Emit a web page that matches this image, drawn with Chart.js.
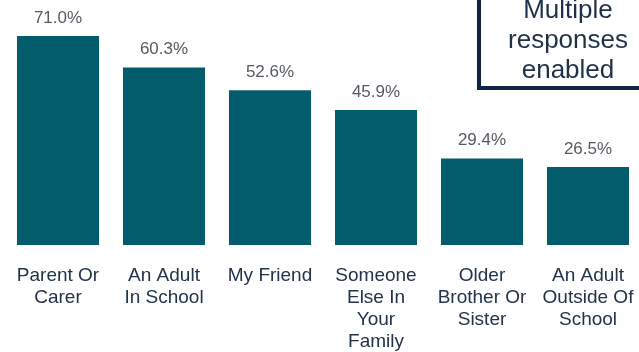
<!DOCTYPE html>
<html>
<head>
<meta charset="utf-8">
<script src="https://cdn.jsdelivr.net/npm/chart.js@4.4.1/dist/chart.umd.min.js"></script>
<style>
  html, body { margin: 0; padding: 0; background: #fff; overflow: hidden; }
  #wrap { width: 646px; height: 352px; position: relative; }
</style>
</head>
<body>
<div id="wrap"><canvas id="helpChart"></canvas></div>
<script>
// Who children would talk to (multiple responses allowed)
const categories = [
  ['Parent Or', 'Carer'],
  ['An Adult', 'In School'],
  ['My Friend'],
  ['Someone', 'Else In', 'Your', 'Family'],
  ['Older', 'Brother Or', 'Sister'],
  ['An Adult', 'Outside Of', 'School']
];
const percentages = [71.0, 60.3, 52.6, 45.9, 29.4, 26.5];
const noteLines = ['Multiple', 'responses', 'enabled'];

const fontFamily = 'Arial, "Liberation Sans", sans-serif';

// percentage above each bar
const valueLabels = {
  id: 'valueLabels',
  afterDatasetsDraw(chart) {
    const ctx = chart.ctx;
    const meta = chart.getDatasetMeta(0);
    ctx.save();
    ctx.font = '17px ' + fontFamily;
    ctx.fillStyle = '#555b62';
    ctx.textAlign = 'center';
    ctx.textBaseline = 'middle';
    meta.data.forEach((bar, i) => {
      ctx.fillText(percentages[i].toFixed(1) + '%', bar.x, bar.y - 18);
    });
    ctx.restore();
  }
};

// boxed note in the top right corner
const noteBox = {
  id: 'noteBox',
  afterDraw(chart) {
    const ctx = chart.ctx;
    ctx.save();
    ctx.strokeStyle = '#0f2443';
    ctx.lineWidth = 4;
    ctx.strokeRect(479, -20, 200, 108);
    ctx.font = '26px ' + fontFamily;
    ctx.fillStyle = '#1f3049';
    ctx.textAlign = 'center';
    ctx.textBaseline = 'middle';
    noteLines.forEach((line, i) => {
      ctx.fillText(line, 568, 11 + i * 30);
    });
    ctx.restore();
  }
};

const ctx = document.getElementById('helpChart').getContext('2d');
new Chart(ctx, {
  type: 'bar',
  data: {
    labels: categories,
    datasets: [{
      data: percentages,
      backgroundColor: '#035c6b',
      borderWidth: 0,
      categoryPercentage: 0.774,
      barPercentage: 1.0
    }]
  },
  options: {
    responsive: true,
    maintainAspectRatio: false,
    animation: false,
    layout: { padding: { left: 5, right: 5, top: 9.5, bottom: 0 } },
    plugins: {
      legend: { display: false },
      tooltip: { enabled: false }
    },
    scales: {
      x: {
        grid: { display: false, drawTicks: false },
        border: { display: false },
        ticks: {
          color: '#22334b',
          font: { family: fontFamily, size: 19, lineHeight: 1.16 },
          padding: 20,
          maxRotation: 0,
          autoSkip: false
        },
        afterFit(scale) {
          scale.height = 107;
          scale.paddingLeft = 0;
          scale.paddingRight = 0;
        }
      },
      y: {
        display: false,
        min: 0,
        max: 80
      }
    }
  },
  plugins: [valueLabels, noteBox]
});
</script>
</body>
</html>
